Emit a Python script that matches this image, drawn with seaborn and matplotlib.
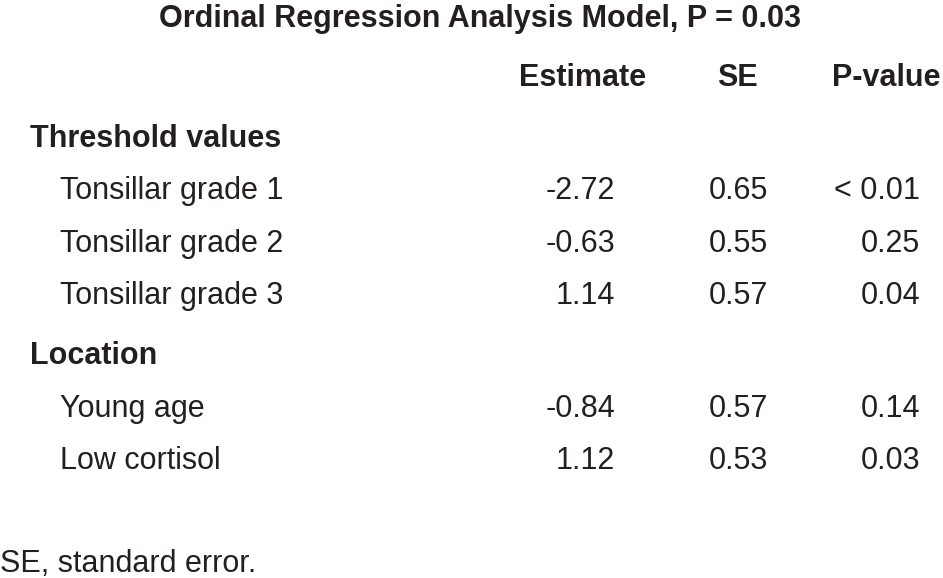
import matplotlib
matplotlib.use("Agg")
import matplotlib.pyplot as plt
import seaborn as sns

# table content
title = "Ordinal Regression Analysis Model, P = 0.03"
headers = ["Estimate", "SE", "P-value"]
groups = ["Threshold values", "Location"]
group_rows = [["Tonsillar grade 1", "Tonsillar grade 2", "Tonsillar grade 3"],
              ["Young age", "Low cortisol"]]
estimates = [["-2.72", "-0.63", "1.14"], ["-0.84", "1.12"]]
se_vals = [["0.65", "0.55", "0.57"], ["0.57", "0.53"]]
p_vals = [["< 0.01", "0.25", "0.04"], ["0.14", "0.03"]]
footnote = "SE, standard error."

sns.set_style("white")
plt.rcParams['font.family'] = ['Liberation Sans', 'DejaVu Sans']
ink = "#231f20"

fig = plt.figure(figsize=(9.43, 5.78), dpi=100)
ax = fig.add_axes([0, 0, 1, 1])
ax.set_xlim(0, 943)
ax.set_ylim(578, 0)
ax.axis("off")

fs = 22
col_centers = [583, 737, 886]
col_rights = [615, 768, 920]

ax.text(480, 27, title, ha="center", va="baseline", fontsize=fs, fontweight="bold", color=ink)
for h, xc in zip(headers, col_centers):
    ax.text(xc, 86, h, ha="center", va="baseline", fontsize=fs, fontweight="bold", color=ink)

group_y = [147, 364]
row_y = [[199, 252, 304], [417, 469]]
for g, gy, labels, ys, est, se, pv in zip(groups, group_y, group_rows, row_y,
                                          estimates, se_vals, p_vals):
    ax.text(30, gy, g, ha="left", va="baseline", fontsize=fs, fontweight="bold", color=ink)
    for lab, y, e, s, p in zip(labels, ys, est, se, pv):
        ax.text(60, y, lab, ha="left", va="baseline", fontsize=fs, color=ink)
        for val, xr in zip([e, s, p], col_rights):
            ax.text(xr, y, val, ha="right", va="baseline", fontsize=fs, color=ink)

ax.text(0, 572, footnote, ha="left", va="baseline", fontsize=fs, color=ink)

fig.savefig("out.png", dpi=100, facecolor="white")
